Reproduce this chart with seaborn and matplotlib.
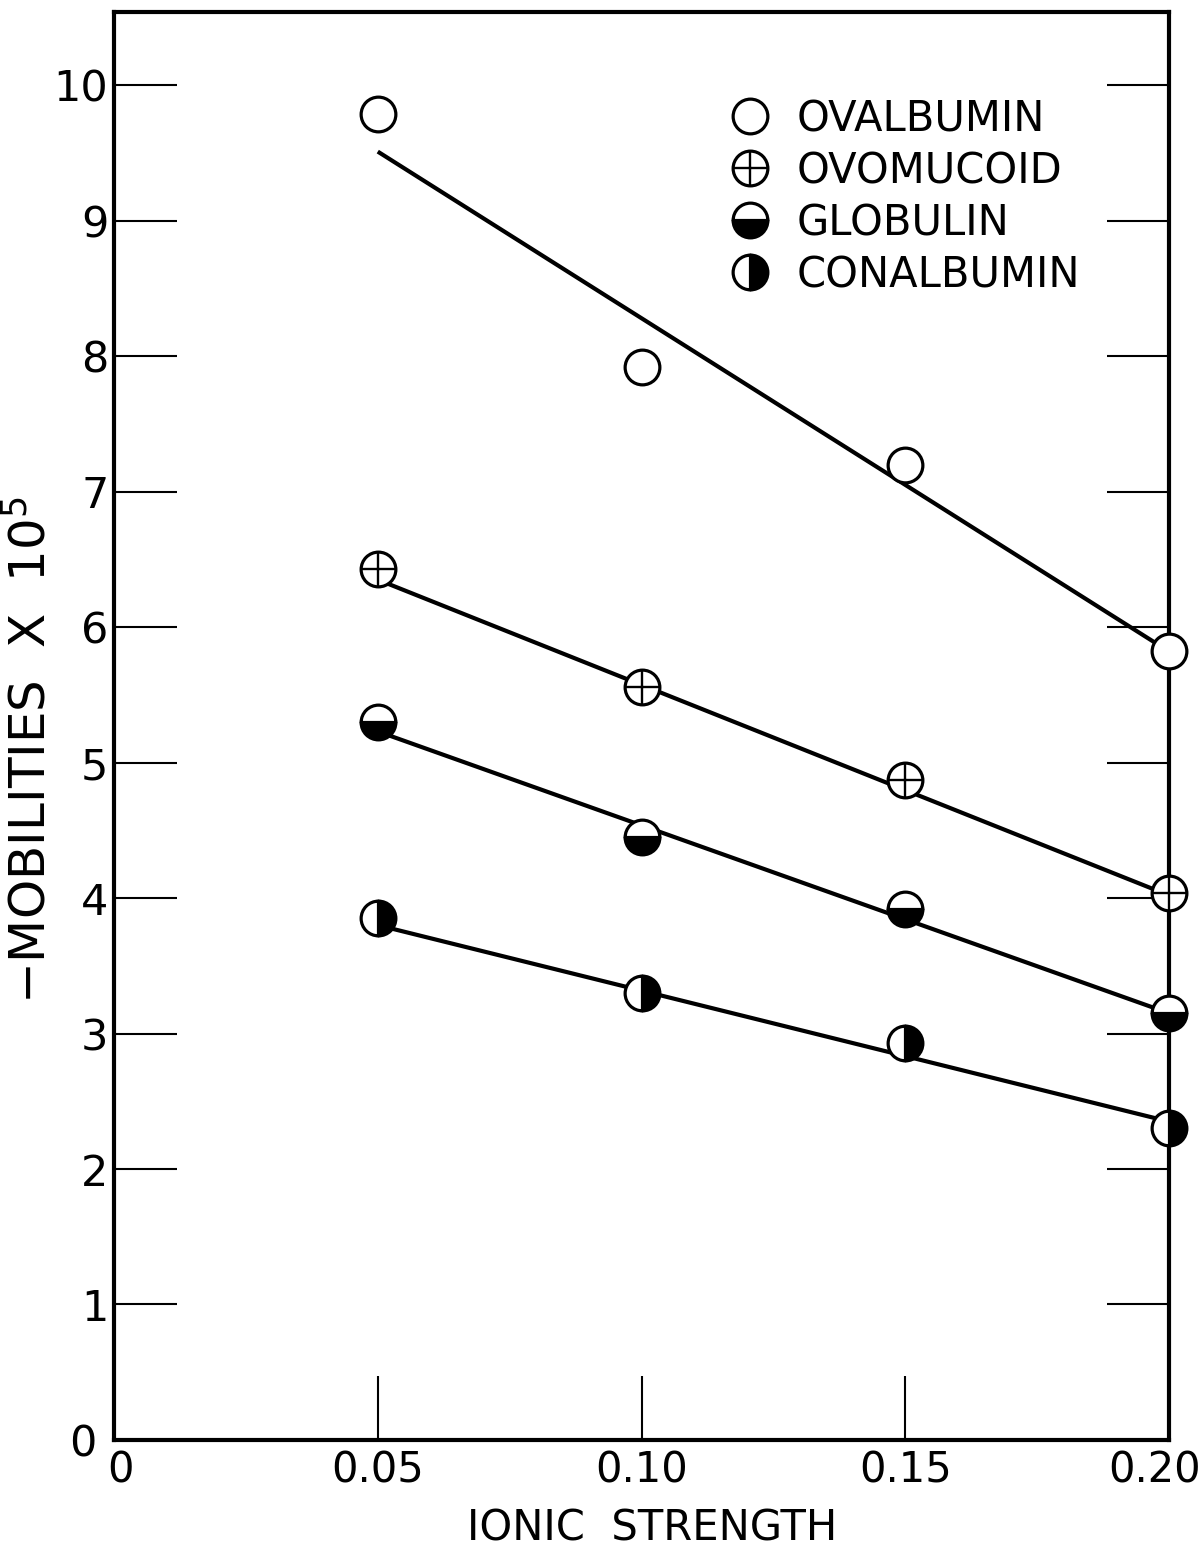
import matplotlib
matplotlib.use("Agg")
import matplotlib.pyplot as plt
import matplotlib.transforms as mtransforms
import seaborn as sns
from matplotlib.lines import Line2D

# ---- data ----
ionic_strength = [0.05, 0.10, 0.15, 0.20]
ovalbumin = [9.79, 7.92, 7.20, 5.82]
ovomucoid = [6.43, 5.56, 4.87, 4.04]
globulin = [5.30, 4.45, 3.92, 3.15]
conalbumin = [3.85, 3.30, 2.93, 2.30]

fit_x = [0.05, 0.20]
ovalbumin_fit = [9.51, 5.82]
ovomucoid_fit = [6.35, 4.02]
globulin_fit = [5.23, 3.15]
conalbumin_fit = [3.80, 2.35]

series_names = ["OVALBUMIN", "OVOMUCOID", "GLOBULIN", "CONALBUMIN"]
x_ticks = [0, 0.05, 0.10, 0.15, 0.20]
x_ticklabels = ["0", "0.05", "0.10", "0.15", "0.20"]
y_ticks = list(range(0, 11))
y_ticklabels = [str(v) for v in y_ticks]

sns.set_theme(style="white")
plt.rcParams["font.family"] = ["DejaVu Sans"]
plt.rcParams["mathtext.fontset"] = "dejavusans"

fig = plt.figure(figsize=(11.99, 15.47), dpi=100)
ax = fig.add_axes([0.0951, 0.0692, 0.8799, 0.9230])

# fitted straight lines
for fit in [ovalbumin_fit, ovomucoid_fit, globulin_fit, conalbumin_fit]:
    sns.lineplot(x=fit_x, y=fit, ax=ax, color="black", linewidth=3.0,
                 legend=False, zorder=2, solid_capstyle="butt")

MS = 25
MEW = 2.3
common = dict(ax=ax, color="black", linestyle="none", marker="o",
              markersize=MS, markeredgewidth=MEW, markeredgecolor="black",
              legend=False, clip_on=False)

sns.lineplot(x=ionic_strength, y=ovalbumin, markerfacecolor="white",
             zorder=4, **common)
sns.lineplot(x=ionic_strength, y=ovomucoid, markerfacecolor="white",
             zorder=4, **common)
sns.lineplot(x=ionic_strength, y=ovomucoid, ax=ax, color="black",
             linestyle="none", marker="+", markersize=MS, markeredgewidth=1.7,
             markeredgecolor="black", legend=False, clip_on=False, zorder=5)
sns.lineplot(x=ionic_strength, y=globulin, markerfacecolor="black",
             markerfacecoloralt="white", fillstyle="bottom", zorder=4, **common)
sns.lineplot(x=ionic_strength, y=conalbumin, markerfacecolor="black",
             markerfacecoloralt="white", fillstyle="right", zorder=4, **common)

ax.set_xlim(0, 0.20)
ax.set_ylim(0, 10.54)
ax.set_xticks(x_ticks)
ax.set_xticklabels(x_ticklabels)
ax.set_yticks(y_ticks)
ax.set_yticklabels(y_ticklabels)

for sp in ax.spines.values():
    sp.set_color("black")
    sp.set_linewidth(3.0)

ax.tick_params(axis="y", direction="in", length=45, width=1.5, color="black",
               left=True, right=True, labelleft=True, labelright=False,
               labelsize=31, pad=4, labelcolor="black")
ax.tick_params(axis="x", direction="in", length=46, width=1.5, color="black",
               bottom=True, top=False, labelsize=30, pad=7, labelcolor="black")


def nudge(label, dx_px, dy_px=0):
    label.set_transform(label.get_transform() +
                        mtransforms.ScaledTranslation(dx_px / 100, dy_px / 100,
                                                      fig.dpi_scale_trans))


xl = ax.get_xticklabels()
nudge(xl[0], 6)      # "0" sits just right of the corner
nudge(xl[-1], -14)   # "0.20" sits slightly left of its tick
yl = ax.get_yticklabels()
nudge(yl[0], -12)    # y "0" sits further left, clear of x "0"

ax.set_xlabel("IONIC  STRENGTH", fontsize=30, color="black")
ax.set_ylabel("\u2212MOBILITIES  X  10$^5$", fontsize=36, color="black")
ax.xaxis.set_label_coords(0.51, -0.047)
ax.yaxis.set_label_coords(-0.055, 0.483)

# legend
h_oval = Line2D([], [], ls="none", marker="o", ms=MS, mew=MEW, mec="black", mfc="white")
h_ovo_c = Line2D([], [], ls="none", marker="o", ms=MS, mew=MEW, mec="black", mfc="white")
h_ovo_p = Line2D([], [], ls="none", marker="+", ms=MS, mew=1.7, mec="black")
h_glob = Line2D([], [], ls="none", marker="o", ms=MS, mew=MEW, mec="black",
                mfc="black", markerfacecoloralt="white", fillstyle="bottom")
h_con = Line2D([], [], ls="none", marker="o", ms=MS, mew=MEW, mec="black",
               mfc="black", markerfacecoloralt="white", fillstyle="right")
ax.legend([h_oval, (h_ovo_c, h_ovo_p), h_glob, h_con], series_names,
          loc="upper left", bbox_to_anchor=(729 / 1199, 1 - 98 / 1547),
          bbox_transform=fig.transFigure, frameon=False, fontsize=30,
          handlelength=1.0, handletextpad=0.62, labelspacing=0.24,
          borderpad=0, borderaxespad=0, numpoints=1, labelcolor="black")

fig.savefig("out.png", dpi=100, facecolor="white")
